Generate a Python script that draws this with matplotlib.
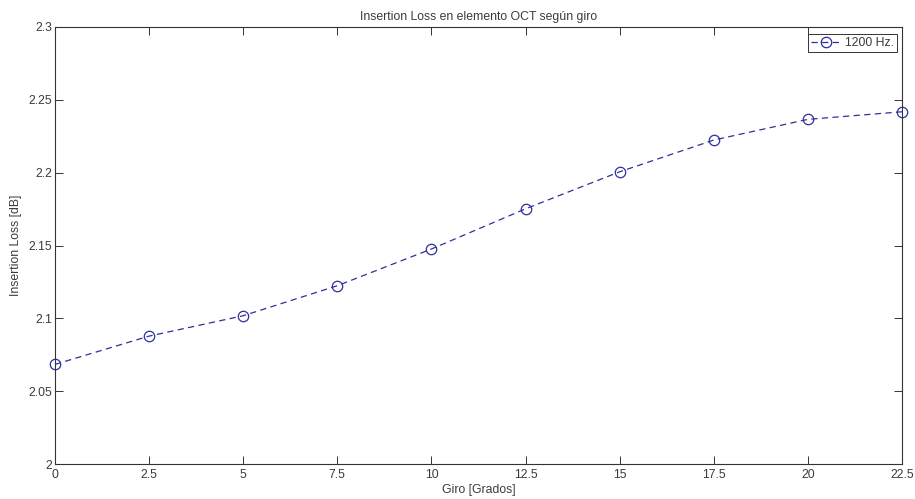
import matplotlib

matplotlib.use('Agg')
import matplotlib.pyplot as plt
import numpy as np

plt.rcParams['font.family'] = ['Liberation Sans', 'DejaVu Sans']

# datos
giro = [0, 2.5, 5, 7.5, 10, 12.5, 15, 17.5, 20, 22.5]
insertion_loss = [2.0684, 2.0878, 2.1018, 2.1224, 2.1476, 2.1752, 2.2006, 2.2224, 2.2366, 2.2418]
x_ticks = [0, 2.5, 5, 7.5, 10, 12.5, 15, 17.5, 20, 22.5]
y_ticks = [2, 2.05, 2.1, 2.15, 2.2, 2.25, 2.3]
y_tick_labels = ['2', '2.05', '2.1', '2.15', '2.2', '2.25', '2.3']
x_tick_labels = ['0', '2.5', '5', '7.5', '10', '12.5', '15', '17.5', '20', '22.5']

txt_color = '#3a3a3a'
fs = 8.8

fig = plt.figure(figsize=(9.15, 4.99), dpi=100)
ax = fig.add_axes([0.0601, 0.0701, 0.9257, 0.8758])

ax.plot(giro, insertion_loss, linestyle='--', color='#2f2f9c', linewidth=0.9,
        marker='o', markersize=7.5, markerfacecolor='none', markeredgecolor='#2f2f9c',
        markeredgewidth=0.9, dashes=(5, 3.5), label='1200 Hz.', clip_on=False)

ax.set_xlim(0, 22.5)
ax.set_ylim(2, 2.3)
ax.set_xticks(x_ticks)
ax.set_xticklabels(x_tick_labels)
ax.set_yticks(y_ticks)
ax.set_yticklabels(y_tick_labels)
ax.tick_params(direction='in', length=6, width=0.7, top=True, right=True,
               labelsize=fs, colors='#333333', labelcolor=txt_color, pad=2)
ax.tick_params(axis='x', pad=3.5)
for s in ax.spines.values():
    s.set_linewidth(0.8)
    s.set_color('#333333')

ax.set_title('Insertion Loss en elemento OCT según giro', fontsize=fs, pad=5,
             color=txt_color)
ax.set_xlabel('Giro [Grados]', fontsize=fs, labelpad=2, color=txt_color)
ax.set_ylabel('Insertion Loss [dB]', fontsize=fs, labelpad=5, color=txt_color)

leg = ax.legend(loc='upper right', fontsize=fs, fancybox=False, framealpha=1,
                borderpad=0.25, handlelength=2.5, handletextpad=0.3,
                borderaxespad=0, bbox_to_anchor=(0.994, 0.984))
leg.get_frame().set_edgecolor('#333333')
leg.get_frame().set_linewidth(0.7)
for t in leg.get_texts():
    t.set_color(txt_color)

fig.savefig('out.png', dpi=100)
